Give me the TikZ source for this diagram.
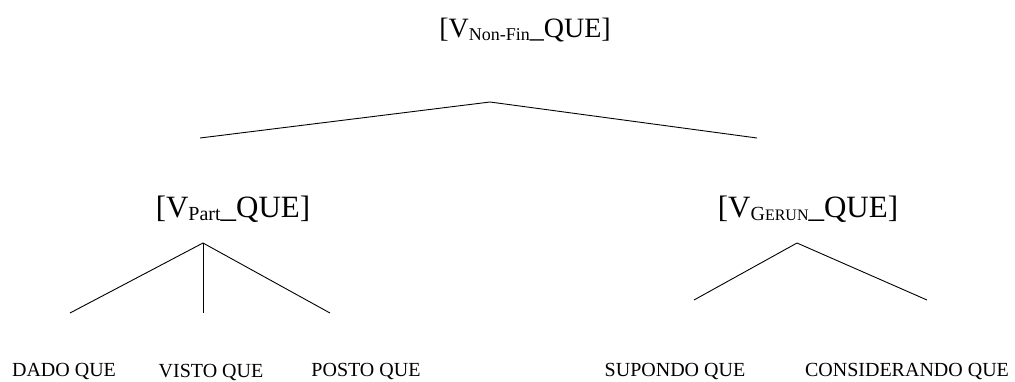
\documentclass[tikz,border=0pt]{standalone}
\usepackage{fontspec}
\setmainfont{Liberation Serif}
\usetikzlibrary{positioning}

\newcommand{\subtxt}[1]{\raisebox{-3pt}{\fontsize{18}{20}\selectfont #1}}
\newcommand{\subbig}[1]{\raisebox{-3pt}{\fontsize{20}{22}\selectfont #1}}
\newcommand{\smallcp}[1]{{\fontsize{16}{18}\selectfont #1}}

\tikzset{
  catlabel/.style={font=\fontsize{28}{30}\selectfont, inner sep=0pt},
  sublabel/.style={font=\fontsize{31}{33}\selectfont, inner sep=0pt},
  leaflabel/.style={font=\fontsize{20}{22}\selectfont, inner sep=0pt},
  branch/.style={draw, line width=0.9pt}
}

\begin{document}
\begin{tikzpicture}[x=1pt, y=-1pt]
\useasboundingbox (0,0) rectangle (1015,381);

% categories
\node[catlabel] (top) at (525,30) {[V\subtxt{Non-Fin}\_QUE]};
\node[sublabel] (part) at (233,209) {[V\subbig{Part}\_QUE]};
\node[sublabel] (gerun) at (808,209) {[V\subbig{G\smallcp{ERUN}}\_QUE]};

% leaves
\node[leaflabel] (dado) at (64,371) {DADO QUE};
\node[leaflabel] (visto) at (211,372.5) {VISTO QUE};
\node[leaflabel] (posto) at (366,371) {POSTO QUE};
\node[leaflabel] (supondo) at (675,371) {SUPONDO QUE};
\node[leaflabel] (consid) at (907,371) {CONSIDERANDO QUE};

% branching points
\coordinate (t0) at (490,102);
\coordinate (t1) at (200,138);
\coordinate (t2) at (757,138);
\coordinate (p0) at (203,243);
\coordinate (p1) at (70,313);
\coordinate (p2) at (203,313);
\coordinate (p3) at (330,313);
\coordinate (g0) at (797,243);
\coordinate (g1) at (694,300);
\coordinate (g2) at (927,300);

\draw[branch] (t1) -- (t0) -- (t2);
\draw[branch] (p1) -- (p0) -- (p3);
\draw[branch] (p0) -- (p2);
\draw[branch] (g1) -- (g0) -- (g2);

\end{tikzpicture}
\end{document}
